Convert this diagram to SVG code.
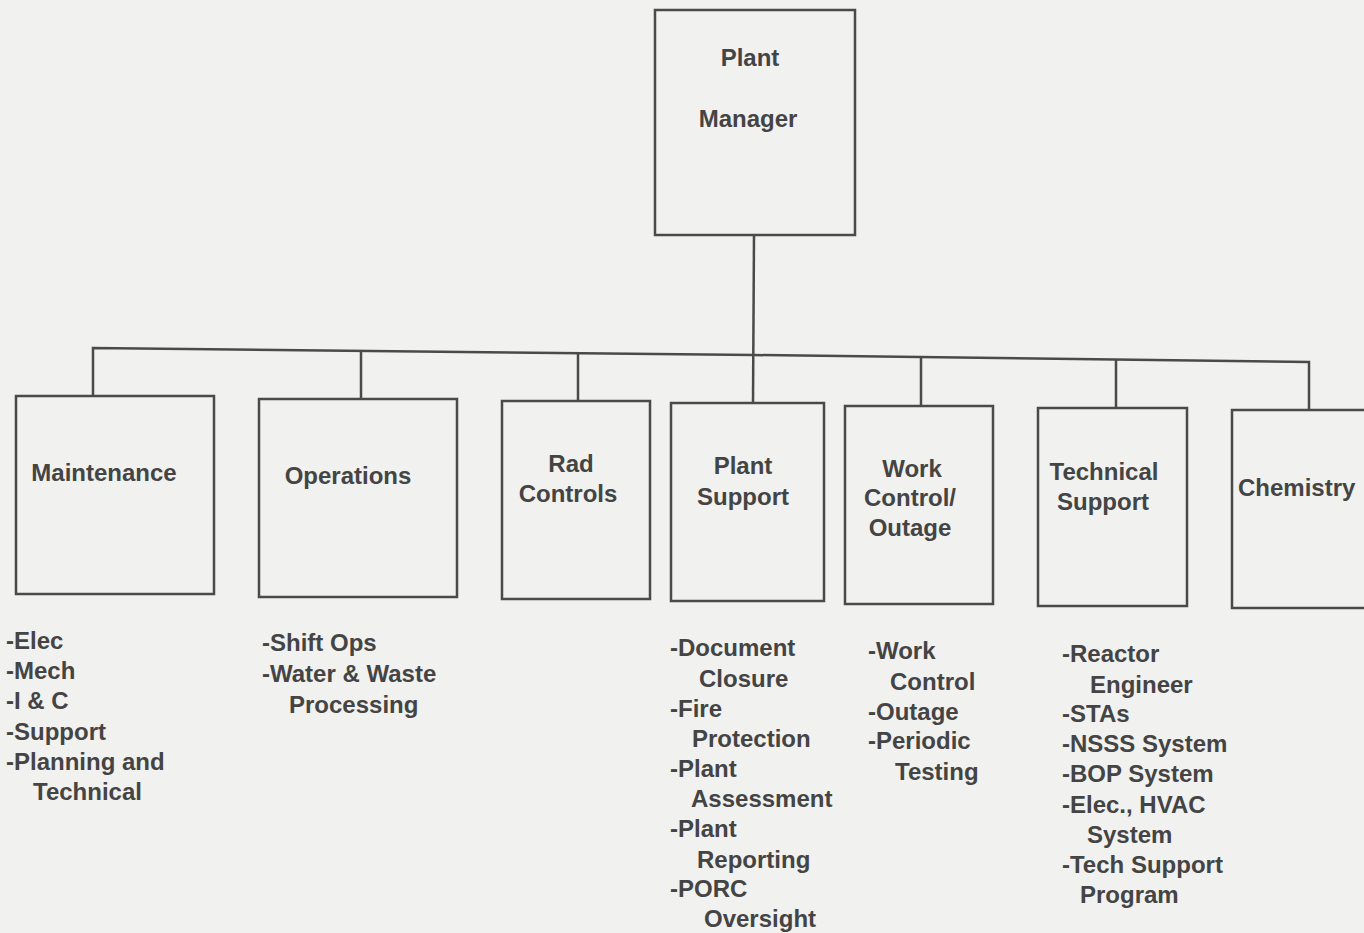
<svg xmlns="http://www.w3.org/2000/svg" width="1364" height="933" viewBox="0 0 1364 933">
<style>
.box{fill:none;stroke:#4a4a4a;stroke-width:2.5}
.ln{fill:none;stroke:#4a4a4a;stroke-width:2.5}
text{font-family:"Liberation Sans",Arial,sans-serif;font-size:24px;font-weight:bold;fill:#444}
.c{text-anchor:middle}
.l{font-size:24px}
</style>
<rect width="1364" height="933" fill="#f1f1ef"/>
<g id="connectors">
<line class="ln" x1="754" y1="235" x2="753" y2="403"/>
<polyline class="ln" points="93,396 93,348 754,355 1309,362 1309,410"/>
<line class="ln" x1="361" y1="351" x2="361" y2="399"/>
<line class="ln" x1="578" y1="353" x2="578" y2="401"/>
<line class="ln" x1="921" y1="357" x2="921" y2="406"/>
<line class="ln" x1="1116" y1="360" x2="1116" y2="408"/>
</g>
<g id="plant-manager">
<rect class="box" x="655" y="10" width="200" height="225"/>
<text class="c" x="750" y="66">Plant</text>
<text class="c" x="748" y="127">Manager</text>
</g>
<g id="maintenance">
<rect class="box" x="16" y="396" width="198" height="198"/>
<text class="c" x="104" y="481">Maintenance</text>
<text class="l" x="6" y="649">-Elec</text>
<text class="l" x="6" y="679">-Mech</text>
<text class="l" x="6" y="709">-I &amp; C</text>
<text class="l" x="6" y="740">-Support</text>
<text class="l" x="6" y="770">-Planning and</text>
<text class="l" x="33" y="800">Technical</text>
</g>
<g id="operations">
<rect class="box" x="259" y="399" width="198" height="198"/>
<text class="c" x="348" y="484">Operations</text>
<text class="l" x="262" y="651">-Shift Ops</text>
<text class="l" x="262" y="682">-Water &amp; Waste</text>
<text class="l" x="289" y="713">Processing</text>
</g>
<g id="rad-controls">
<rect class="box" x="502" y="401" width="148" height="198"/>
<text class="c" x="571" y="472">Rad</text>
<text class="c" x="568" y="502">Controls</text>
</g>
<g id="plant-support">
<rect class="box" x="671" y="403" width="153" height="198"/>
<text class="c" x="743" y="474">Plant</text>
<text class="c" x="743" y="505">Support</text>
<text class="l" x="670" y="656">-Document</text>
<text class="l" x="699" y="687">Closure</text>
<text class="l" x="670" y="717">-Fire</text>
<text class="l" x="692" y="747">Protection</text>
<text class="l" x="670" y="777">-Plant</text>
<text class="l" x="691" y="807">Assessment</text>
<text class="l" x="670" y="837">-Plant</text>
<text class="l" x="697" y="868">Reporting</text>
<text class="l" x="670" y="897">-PORC</text>
<text class="l" x="704" y="927">Oversight</text>
</g>
<g id="work-control-outage">
<rect class="box" x="845" y="406" width="148" height="198"/>
<text class="c" x="912" y="477">Work</text>
<text class="c" x="910" y="506">Control/</text>
<text class="c" x="910" y="536">Outage</text>
<text class="l" x="868" y="659">-Work</text>
<text class="l" x="890" y="690">Control</text>
<text class="l" x="868" y="720">-Outage</text>
<text class="l" x="868" y="749">-Periodic</text>
<text class="l" x="895" y="780">Testing</text>
</g>
<g id="technical-support">
<rect class="box" x="1038" y="408" width="149" height="198"/>
<text class="c" x="1104" y="480">Technical</text>
<text class="c" x="1103" y="510">Support</text>
<text class="l" x="1062" y="662">-Reactor</text>
<text class="l" x="1090" y="693">Engineer</text>
<text class="l" x="1062" y="722">-STAs</text>
<text class="l" x="1062" y="752">-NSSS System</text>
<text class="l" x="1062" y="782">-BOP System</text>
<text class="l" x="1062" y="813">-Elec., HVAC</text>
<text class="l" x="1087" y="843">System</text>
<text class="l" x="1062" y="873">-Tech Support</text>
<text class="l" x="1080" y="903">Program</text>
</g>
<g id="chemistry">
<polyline class="box" points="1366,410 1232,410 1232,608 1366,608"/>
<text x="1238" y="496">Chemistry</text>
</g>
</svg>
